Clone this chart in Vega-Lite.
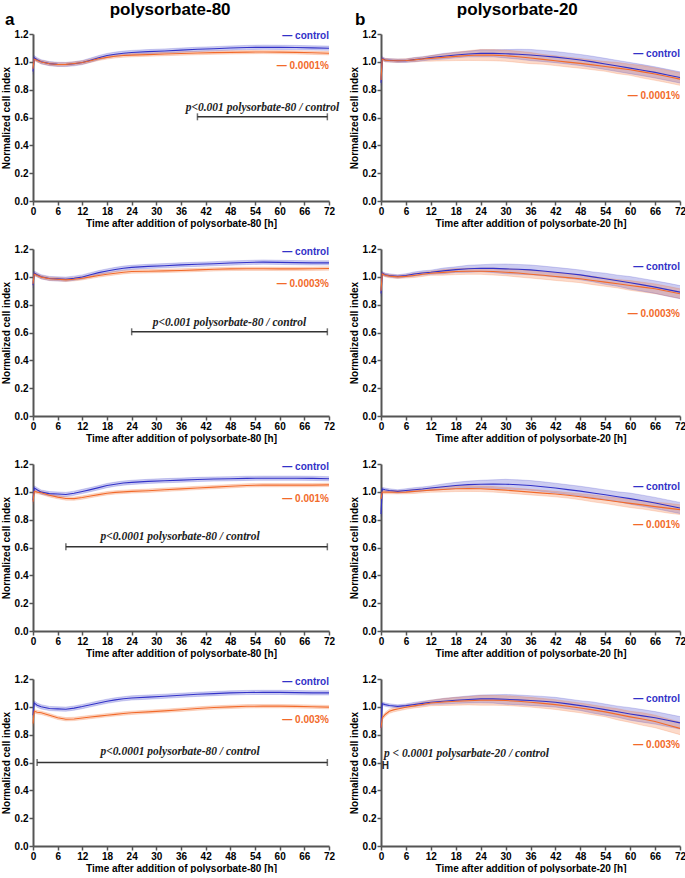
{
"$schema":"https://vega.github.io/schema/vega-lite/v6.json",
"padding":{"left":1,"top":1,"right":3,"bottom":0},
"background":"white",
"config":{
 "view":{"stroke":null},
 "font":"Liberation Sans",
 "title":{"font":"Liberation Sans","fontWeight":"bold","fontSize":17,"color":"black"},
 "axis":{"grid":false,"labelFont":"Liberation Sans","labelFontWeight":"bold","labelFontSize":10,"labelColor":"black","titleFont":"Liberation Sans","titleFontWeight":"bold","titleFontSize":10,"titleColor":"black","domainColor":"#555","domainWidth":2,"tickColor":"#555","tickWidth":1.5,"tickSize":4,"labelPadding":1,"titlePadding":2,"labelOverlap":false},
 "axisX":{"labelFlush":false,"tickCount":13},
 "axisY":{"format":".1f","titlePadding":3}
},
"datasets":{
"d":[
{"p":"a1","s":"control","t":0,"m":0.93,"e":0.02},{"p":"a1","s":"control","t":0.3,"m":1.03,"e":0.015},{"p":"a1","s":"control","t":1,"m":1.015,"e":0.015},{"p":"a1","s":"control","t":2,"m":1.0,"e":0.015},{"p":"a1","s":"control","t":4,"m":0.987,"e":0.015},{"p":"a1","s":"control","t":6,"m":0.982,"e":0.015},{"p":"a1","s":"control","t":8,"m":0.981,"e":0.015},{"p":"a1","s":"control","t":10,"m":0.986,"e":0.015},{"p":"a1","s":"control","t":12,"m":0.995,"e":0.015},{"p":"a1","s":"control","t":14,"m":1.012,"e":0.015},{"p":"a1","s":"control","t":16,"m":1.03,"e":0.015},{"p":"a1","s":"control","t":18,"m":1.045,"e":0.015},{"p":"a1","s":"control","t":20,"m":1.055,"e":0.015},{"p":"a1","s":"control","t":22,"m":1.062,"e":0.015},{"p":"a1","s":"control","t":24,"m":1.067,"e":0.015},{"p":"a1","s":"control","t":28,"m":1.073,"e":0.015},{"p":"a1","s":"control","t":32,"m":1.078,"e":0.015},{"p":"a1","s":"control","t":36,"m":1.084,"e":0.015},{"p":"a1","s":"control","t":40,"m":1.09,"e":0.015},{"p":"a1","s":"control","t":44,"m":1.094,"e":0.015},{"p":"a1","s":"control","t":48,"m":1.099,"e":0.015},{"p":"a1","s":"control","t":52,"m":1.103,"e":0.015},{"p":"a1","s":"control","t":56,"m":1.105,"e":0.015},{"p":"a1","s":"control","t":60,"m":1.104,"e":0.015},{"p":"a1","s":"control","t":64,"m":1.103,"e":0.015},{"p":"a1","s":"control","t":68,"m":1.1,"e":0.015},{"p":"a1","s":"control","t":72,"m":1.098,"e":0.015},
{"p":"a1","s":"treat","t":0,"m":0.95,"e":0.02},{"p":"a1","s":"treat","t":0.3,"m":1.02,"e":0.012},{"p":"a1","s":"treat","t":1,"m":1.01,"e":0.012},{"p":"a1","s":"treat","t":2,"m":0.999,"e":0.012},{"p":"a1","s":"treat","t":4,"m":0.986,"e":0.012},{"p":"a1","s":"treat","t":6,"m":0.981,"e":0.012},{"p":"a1","s":"treat","t":8,"m":0.982,"e":0.012},{"p":"a1","s":"treat","t":10,"m":0.988,"e":0.012},{"p":"a1","s":"treat","t":12,"m":0.995,"e":0.012},{"p":"a1","s":"treat","t":14,"m":1.008,"e":0.012},{"p":"a1","s":"treat","t":16,"m":1.022,"e":0.012},{"p":"a1","s":"treat","t":18,"m":1.032,"e":0.012},{"p":"a1","s":"treat","t":20,"m":1.04,"e":0.012},{"p":"a1","s":"treat","t":22,"m":1.045,"e":0.012},{"p":"a1","s":"treat","t":24,"m":1.048,"e":0.012},{"p":"a1","s":"treat","t":28,"m":1.052,"e":0.012},{"p":"a1","s":"treat","t":32,"m":1.056,"e":0.012},{"p":"a1","s":"treat","t":36,"m":1.06,"e":0.012},{"p":"a1","s":"treat","t":40,"m":1.063,"e":0.012},{"p":"a1","s":"treat","t":44,"m":1.066,"e":0.012},{"p":"a1","s":"treat","t":48,"m":1.068,"e":0.012},{"p":"a1","s":"treat","t":52,"m":1.07,"e":0.012},{"p":"a1","s":"treat","t":56,"m":1.071,"e":0.012},{"p":"a1","s":"treat","t":60,"m":1.07,"e":0.012},{"p":"a1","s":"treat","t":64,"m":1.068,"e":0.012},{"p":"a1","s":"treat","t":68,"m":1.065,"e":0.012},{"p":"a1","s":"treat","t":72,"m":1.062,"e":0.012},
{"p":"a2","s":"control","t":0,"m":0.94,"e":0.02},{"p":"a2","s":"control","t":0.3,"m":1.027,"e":0.015},{"p":"a2","s":"control","t":1,"m":1.015,"e":0.015},{"p":"a2","s":"control","t":2,"m":1.0,"e":0.015},{"p":"a2","s":"control","t":4,"m":0.988,"e":0.015},{"p":"a2","s":"control","t":6,"m":0.985,"e":0.015},{"p":"a2","s":"control","t":8,"m":0.983,"e":0.015},{"p":"a2","s":"control","t":10,"m":0.99,"e":0.015},{"p":"a2","s":"control","t":12,"m":0.999,"e":0.015},{"p":"a2","s":"control","t":14,"m":1.015,"e":0.015},{"p":"a2","s":"control","t":16,"m":1.03,"e":0.015},{"p":"a2","s":"control","t":18,"m":1.042,"e":0.015},{"p":"a2","s":"control","t":20,"m":1.053,"e":0.015},{"p":"a2","s":"control","t":22,"m":1.062,"e":0.015},{"p":"a2","s":"control","t":24,"m":1.068,"e":0.015},{"p":"a2","s":"control","t":28,"m":1.075,"e":0.015},{"p":"a2","s":"control","t":32,"m":1.08,"e":0.015},{"p":"a2","s":"control","t":36,"m":1.086,"e":0.015},{"p":"a2","s":"control","t":40,"m":1.09,"e":0.015},{"p":"a2","s":"control","t":44,"m":1.094,"e":0.015},{"p":"a2","s":"control","t":48,"m":1.099,"e":0.015},{"p":"a2","s":"control","t":52,"m":1.103,"e":0.015},{"p":"a2","s":"control","t":56,"m":1.106,"e":0.015},{"p":"a2","s":"control","t":60,"m":1.104,"e":0.015},{"p":"a2","s":"control","t":64,"m":1.102,"e":0.015},{"p":"a2","s":"control","t":68,"m":1.1,"e":0.015},{"p":"a2","s":"control","t":72,"m":1.1,"e":0.015},
{"p":"a2","s":"treat","t":0,"m":0.95,"e":0.02},{"p":"a2","s":"treat","t":0.3,"m":1.02,"e":0.012},{"p":"a2","s":"treat","t":1,"m":1.01,"e":0.012},{"p":"a2","s":"treat","t":2,"m":0.998,"e":0.012},{"p":"a2","s":"treat","t":4,"m":0.986,"e":0.012},{"p":"a2","s":"treat","t":6,"m":0.983,"e":0.012},{"p":"a2","s":"treat","t":8,"m":0.978,"e":0.012},{"p":"a2","s":"treat","t":10,"m":0.983,"e":0.012},{"p":"a2","s":"treat","t":12,"m":0.99,"e":0.012},{"p":"a2","s":"treat","t":14,"m":1.0,"e":0.012},{"p":"a2","s":"treat","t":16,"m":1.01,"e":0.012},{"p":"a2","s":"treat","t":18,"m":1.018,"e":0.012},{"p":"a2","s":"treat","t":20,"m":1.026,"e":0.012},{"p":"a2","s":"treat","t":22,"m":1.033,"e":0.012},{"p":"a2","s":"treat","t":24,"m":1.038,"e":0.012},{"p":"a2","s":"treat","t":28,"m":1.04,"e":0.012},{"p":"a2","s":"treat","t":32,"m":1.043,"e":0.012},{"p":"a2","s":"treat","t":36,"m":1.046,"e":0.012},{"p":"a2","s":"treat","t":40,"m":1.05,"e":0.012},{"p":"a2","s":"treat","t":44,"m":1.054,"e":0.012},{"p":"a2","s":"treat","t":48,"m":1.057,"e":0.012},{"p":"a2","s":"treat","t":52,"m":1.058,"e":0.012},{"p":"a2","s":"treat","t":56,"m":1.058,"e":0.012},{"p":"a2","s":"treat","t":60,"m":1.057,"e":0.012},{"p":"a2","s":"treat","t":64,"m":1.057,"e":0.012},{"p":"a2","s":"treat","t":68,"m":1.058,"e":0.012},{"p":"a2","s":"treat","t":72,"m":1.06,"e":0.012},
{"p":"a3","s":"control","t":0,"m":0.94,"e":0.02},{"p":"a3","s":"control","t":0.3,"m":1.028,"e":0.015},{"p":"a3","s":"control","t":1,"m":1.015,"e":0.015},{"p":"a3","s":"control","t":2,"m":0.998,"e":0.015},{"p":"a3","s":"control","t":4,"m":0.987,"e":0.015},{"p":"a3","s":"control","t":6,"m":0.984,"e":0.015},{"p":"a3","s":"control","t":8,"m":0.981,"e":0.015},{"p":"a3","s":"control","t":10,"m":0.99,"e":0.015},{"p":"a3","s":"control","t":12,"m":1.003,"e":0.015},{"p":"a3","s":"control","t":14,"m":1.016,"e":0.015},{"p":"a3","s":"control","t":16,"m":1.03,"e":0.015},{"p":"a3","s":"control","t":18,"m":1.045,"e":0.015},{"p":"a3","s":"control","t":20,"m":1.055,"e":0.015},{"p":"a3","s":"control","t":22,"m":1.063,"e":0.015},{"p":"a3","s":"control","t":24,"m":1.068,"e":0.015},{"p":"a3","s":"control","t":28,"m":1.075,"e":0.015},{"p":"a3","s":"control","t":32,"m":1.08,"e":0.015},{"p":"a3","s":"control","t":36,"m":1.084,"e":0.015},{"p":"a3","s":"control","t":40,"m":1.089,"e":0.015},{"p":"a3","s":"control","t":44,"m":1.092,"e":0.015},{"p":"a3","s":"control","t":48,"m":1.094,"e":0.015},{"p":"a3","s":"control","t":52,"m":1.097,"e":0.015},{"p":"a3","s":"control","t":56,"m":1.098,"e":0.015},{"p":"a3","s":"control","t":60,"m":1.098,"e":0.015},{"p":"a3","s":"control","t":64,"m":1.098,"e":0.015},{"p":"a3","s":"control","t":68,"m":1.097,"e":0.015},{"p":"a3","s":"control","t":72,"m":1.094,"e":0.015},
{"p":"a3","s":"treat","t":0,"m":0.93,"e":0.02},{"p":"a3","s":"treat","t":0.3,"m":1.003,"e":0.012},{"p":"a3","s":"treat","t":1,"m":0.998,"e":0.012},{"p":"a3","s":"treat","t":2,"m":0.993,"e":0.012},{"p":"a3","s":"treat","t":4,"m":0.975,"e":0.012},{"p":"a3","s":"treat","t":6,"m":0.962,"e":0.012},{"p":"a3","s":"treat","t":8,"m":0.952,"e":0.012},{"p":"a3","s":"treat","t":10,"m":0.951,"e":0.012},{"p":"a3","s":"treat","t":12,"m":0.959,"e":0.012},{"p":"a3","s":"treat","t":14,"m":0.97,"e":0.012},{"p":"a3","s":"treat","t":16,"m":0.98,"e":0.012},{"p":"a3","s":"treat","t":18,"m":0.99,"e":0.012},{"p":"a3","s":"treat","t":20,"m":0.996,"e":0.012},{"p":"a3","s":"treat","t":22,"m":1.0,"e":0.012},{"p":"a3","s":"treat","t":24,"m":1.003,"e":0.012},{"p":"a3","s":"treat","t":28,"m":1.008,"e":0.012},{"p":"a3","s":"treat","t":32,"m":1.015,"e":0.012},{"p":"a3","s":"treat","t":36,"m":1.021,"e":0.012},{"p":"a3","s":"treat","t":40,"m":1.028,"e":0.012},{"p":"a3","s":"treat","t":44,"m":1.034,"e":0.012},{"p":"a3","s":"treat","t":48,"m":1.04,"e":0.012},{"p":"a3","s":"treat","t":52,"m":1.046,"e":0.012},{"p":"a3","s":"treat","t":56,"m":1.048,"e":0.012},{"p":"a3","s":"treat","t":60,"m":1.048,"e":0.012},{"p":"a3","s":"treat","t":64,"m":1.048,"e":0.012},{"p":"a3","s":"treat","t":68,"m":1.048,"e":0.012},{"p":"a3","s":"treat","t":72,"m":1.05,"e":0.012},
{"p":"a4","s":"control","t":0,"m":0.94,"e":0.02},{"p":"a4","s":"control","t":0.3,"m":1.028,"e":0.015},{"p":"a4","s":"control","t":1,"m":1.012,"e":0.015},{"p":"a4","s":"control","t":2,"m":1.0,"e":0.015},{"p":"a4","s":"control","t":4,"m":0.988,"e":0.015},{"p":"a4","s":"control","t":6,"m":0.985,"e":0.015},{"p":"a4","s":"control","t":8,"m":0.983,"e":0.015},{"p":"a4","s":"control","t":10,"m":0.991,"e":0.015},{"p":"a4","s":"control","t":12,"m":1.002,"e":0.015},{"p":"a4","s":"control","t":14,"m":1.015,"e":0.015},{"p":"a4","s":"control","t":16,"m":1.028,"e":0.015},{"p":"a4","s":"control","t":18,"m":1.04,"e":0.015},{"p":"a4","s":"control","t":20,"m":1.05,"e":0.015},{"p":"a4","s":"control","t":22,"m":1.058,"e":0.015},{"p":"a4","s":"control","t":24,"m":1.064,"e":0.015},{"p":"a4","s":"control","t":28,"m":1.07,"e":0.015},{"p":"a4","s":"control","t":32,"m":1.076,"e":0.015},{"p":"a4","s":"control","t":36,"m":1.083,"e":0.015},{"p":"a4","s":"control","t":40,"m":1.09,"e":0.015},{"p":"a4","s":"control","t":44,"m":1.095,"e":0.015},{"p":"a4","s":"control","t":48,"m":1.1,"e":0.015},{"p":"a4","s":"control","t":52,"m":1.103,"e":0.015},{"p":"a4","s":"control","t":56,"m":1.104,"e":0.015},{"p":"a4","s":"control","t":60,"m":1.104,"e":0.015},{"p":"a4","s":"control","t":64,"m":1.102,"e":0.015},{"p":"a4","s":"control","t":68,"m":1.1,"e":0.015},{"p":"a4","s":"control","t":72,"m":1.1,"e":0.015},
{"p":"a4","s":"treat","t":0,"m":0.88,"e":0.02},{"p":"a4","s":"treat","t":0.3,"m":0.968,"e":0.012},{"p":"a4","s":"treat","t":1,"m":0.961,"e":0.012},{"p":"a4","s":"treat","t":2,"m":0.957,"e":0.012},{"p":"a4","s":"treat","t":4,"m":0.94,"e":0.012},{"p":"a4","s":"treat","t":6,"m":0.921,"e":0.012},{"p":"a4","s":"treat","t":8,"m":0.911,"e":0.012},{"p":"a4","s":"treat","t":10,"m":0.913,"e":0.012},{"p":"a4","s":"treat","t":12,"m":0.92,"e":0.012},{"p":"a4","s":"treat","t":14,"m":0.927,"e":0.012},{"p":"a4","s":"treat","t":16,"m":0.933,"e":0.012},{"p":"a4","s":"treat","t":18,"m":0.94,"e":0.012},{"p":"a4","s":"treat","t":20,"m":0.946,"e":0.012},{"p":"a4","s":"treat","t":22,"m":0.952,"e":0.012},{"p":"a4","s":"treat","t":24,"m":0.957,"e":0.012},{"p":"a4","s":"treat","t":28,"m":0.964,"e":0.012},{"p":"a4","s":"treat","t":32,"m":0.971,"e":0.012},{"p":"a4","s":"treat","t":36,"m":0.979,"e":0.012},{"p":"a4","s":"treat","t":40,"m":0.988,"e":0.012},{"p":"a4","s":"treat","t":44,"m":0.995,"e":0.012},{"p":"a4","s":"treat","t":48,"m":1.0,"e":0.012},{"p":"a4","s":"treat","t":52,"m":1.004,"e":0.012},{"p":"a4","s":"treat","t":56,"m":1.005,"e":0.012},{"p":"a4","s":"treat","t":60,"m":1.005,"e":0.012},{"p":"a4","s":"treat","t":64,"m":1.003,"e":0.012},{"p":"a4","s":"treat","t":68,"m":1.001,"e":0.012},{"p":"a4","s":"treat","t":72,"m":0.998,"e":0.012},
{"p":"b1","s":"control","t":0,"m":0.85,"e":0.02},{"p":"b1","s":"control","t":0.3,"m":1.025,"e":0.012},{"p":"b1","s":"control","t":1,"m":1.013,"e":0.012},{"p":"b1","s":"control","t":2,"m":1.011,"e":0.012},{"p":"b1","s":"control","t":4,"m":1.008,"e":0.012},{"p":"b1","s":"control","t":6,"m":1.008,"e":0.012},{"p":"b1","s":"control","t":8,"m":1.016,"e":0.015},{"p":"b1","s":"control","t":10,"m":1.022,"e":0.015},{"p":"b1","s":"control","t":12,"m":1.03,"e":0.015},{"p":"b1","s":"control","t":15,"m":1.04,"e":0.02},{"p":"b1","s":"control","t":18,"m":1.049,"e":0.02},{"p":"b1","s":"control","t":21,"m":1.056,"e":0.02},{"p":"b1","s":"control","t":24,"m":1.061,"e":0.025},{"p":"b1","s":"control","t":27,"m":1.061,"e":0.025},{"p":"b1","s":"control","t":30,"m":1.058,"e":0.03},{"p":"b1","s":"control","t":33,"m":1.055,"e":0.035},{"p":"b1","s":"control","t":36,"m":1.049,"e":0.04},{"p":"b1","s":"control","t":39,"m":1.042,"e":0.04},{"p":"b1","s":"control","t":42,"m":1.034,"e":0.04},{"p":"b1","s":"control","t":45,"m":1.024,"e":0.04},{"p":"b1","s":"control","t":48,"m":1.013,"e":0.04},{"p":"b1","s":"control","t":51,"m":1.0,"e":0.04},{"p":"b1","s":"control","t":54,"m":0.985,"e":0.04},{"p":"b1","s":"control","t":57,"m":0.97,"e":0.04},{"p":"b1","s":"control","t":60,"m":0.955,"e":0.04},{"p":"b1","s":"control","t":63,"m":0.94,"e":0.04},{"p":"b1","s":"control","t":66,"m":0.924,"e":0.04},{"p":"b1","s":"control","t":69,"m":0.906,"e":0.04},{"p":"b1","s":"control","t":72,"m":0.888,"e":0.04},
{"p":"b1","s":"treat","t":0,"m":0.87,"e":0.02},{"p":"b1","s":"treat","t":0.3,"m":1.02,"e":0.012},{"p":"b1","s":"treat","t":1,"m":1.012,"e":0.012},{"p":"b1","s":"treat","t":2,"m":1.01,"e":0.012},{"p":"b1","s":"treat","t":4,"m":1.008,"e":0.012},{"p":"b1","s":"treat","t":6,"m":1.01,"e":0.012},{"p":"b1","s":"treat","t":8,"m":1.014,"e":0.015},{"p":"b1","s":"treat","t":10,"m":1.02,"e":0.015},{"p":"b1","s":"treat","t":12,"m":1.025,"e":0.02},{"p":"b1","s":"treat","t":15,"m":1.032,"e":0.025},{"p":"b1","s":"treat","t":18,"m":1.039,"e":0.03},{"p":"b1","s":"treat","t":21,"m":1.045,"e":0.035},{"p":"b1","s":"treat","t":24,"m":1.049,"e":0.04},{"p":"b1","s":"treat","t":27,"m":1.048,"e":0.04},{"p":"b1","s":"treat","t":30,"m":1.044,"e":0.04},{"p":"b1","s":"treat","t":33,"m":1.036,"e":0.04},{"p":"b1","s":"treat","t":36,"m":1.027,"e":0.04},{"p":"b1","s":"treat","t":39,"m":1.018,"e":0.035},{"p":"b1","s":"treat","t":42,"m":1.008,"e":0.035},{"p":"b1","s":"treat","t":45,"m":0.998,"e":0.035},{"p":"b1","s":"treat","t":48,"m":0.989,"e":0.035},{"p":"b1","s":"treat","t":51,"m":0.978,"e":0.035},{"p":"b1","s":"treat","t":54,"m":0.967,"e":0.035},{"p":"b1","s":"treat","t":57,"m":0.955,"e":0.04},{"p":"b1","s":"treat","t":60,"m":0.943,"e":0.04},{"p":"b1","s":"treat","t":63,"m":0.928,"e":0.045},{"p":"b1","s":"treat","t":66,"m":0.912,"e":0.045},{"p":"b1","s":"treat","t":69,"m":0.895,"e":0.045},{"p":"b1","s":"treat","t":72,"m":0.876,"e":0.045},
{"p":"b2","s":"control","t":0,"m":0.88,"e":0.02},{"p":"b2","s":"control","t":0.3,"m":1.026,"e":0.012},{"p":"b2","s":"control","t":1,"m":1.015,"e":0.012},{"p":"b2","s":"control","t":2,"m":1.01,"e":0.012},{"p":"b2","s":"control","t":4,"m":1.003,"e":0.012},{"p":"b2","s":"control","t":6,"m":1.01,"e":0.012},{"p":"b2","s":"control","t":8,"m":1.02,"e":0.015},{"p":"b2","s":"control","t":10,"m":1.028,"e":0.015},{"p":"b2","s":"control","t":12,"m":1.033,"e":0.015},{"p":"b2","s":"control","t":15,"m":1.043,"e":0.02},{"p":"b2","s":"control","t":18,"m":1.052,"e":0.02},{"p":"b2","s":"control","t":21,"m":1.058,"e":0.025},{"p":"b2","s":"control","t":24,"m":1.062,"e":0.025},{"p":"b2","s":"control","t":27,"m":1.061,"e":0.03},{"p":"b2","s":"control","t":30,"m":1.057,"e":0.035},{"p":"b2","s":"control","t":33,"m":1.054,"e":0.035},{"p":"b2","s":"control","t":36,"m":1.05,"e":0.035},{"p":"b2","s":"control","t":39,"m":1.042,"e":0.035},{"p":"b2","s":"control","t":42,"m":1.033,"e":0.035},{"p":"b2","s":"control","t":45,"m":1.024,"e":0.035},{"p":"b2","s":"control","t":48,"m":1.014,"e":0.035},{"p":"b2","s":"control","t":51,"m":1.0,"e":0.035},{"p":"b2","s":"control","t":54,"m":0.986,"e":0.04},{"p":"b2","s":"control","t":57,"m":0.972,"e":0.04},{"p":"b2","s":"control","t":60,"m":0.957,"e":0.045},{"p":"b2","s":"control","t":63,"m":0.942,"e":0.045},{"p":"b2","s":"control","t":66,"m":0.926,"e":0.045},{"p":"b2","s":"control","t":69,"m":0.908,"e":0.047},{"p":"b2","s":"control","t":72,"m":0.89,"e":0.047},
{"p":"b2","s":"treat","t":0,"m":0.9,"e":0.02},{"p":"b2","s":"treat","t":0.3,"m":1.021,"e":0.012},{"p":"b2","s":"treat","t":1,"m":1.012,"e":0.012},{"p":"b2","s":"treat","t":2,"m":1.005,"e":0.012},{"p":"b2","s":"treat","t":4,"m":1.0,"e":0.012},{"p":"b2","s":"treat","t":6,"m":1.003,"e":0.012},{"p":"b2","s":"treat","t":8,"m":1.01,"e":0.015},{"p":"b2","s":"treat","t":10,"m":1.018,"e":0.015},{"p":"b2","s":"treat","t":12,"m":1.026,"e":0.015},{"p":"b2","s":"treat","t":15,"m":1.032,"e":0.02},{"p":"b2","s":"treat","t":18,"m":1.038,"e":0.022},{"p":"b2","s":"treat","t":21,"m":1.04,"e":0.022},{"p":"b2","s":"treat","t":24,"m":1.04,"e":0.022},{"p":"b2","s":"treat","t":27,"m":1.038,"e":0.025},{"p":"b2","s":"treat","t":30,"m":1.033,"e":0.025},{"p":"b2","s":"treat","t":33,"m":1.027,"e":0.028},{"p":"b2","s":"treat","t":36,"m":1.019,"e":0.028},{"p":"b2","s":"treat","t":39,"m":1.011,"e":0.028},{"p":"b2","s":"treat","t":42,"m":1.002,"e":0.028},{"p":"b2","s":"treat","t":45,"m":0.994,"e":0.028},{"p":"b2","s":"treat","t":48,"m":0.986,"e":0.028},{"p":"b2","s":"treat","t":51,"m":0.974,"e":0.03},{"p":"b2","s":"treat","t":54,"m":0.962,"e":0.03},{"p":"b2","s":"treat","t":57,"m":0.95,"e":0.03},{"p":"b2","s":"treat","t":60,"m":0.938,"e":0.035},{"p":"b2","s":"treat","t":63,"m":0.926,"e":0.035},{"p":"b2","s":"treat","t":66,"m":0.914,"e":0.035},{"p":"b2","s":"treat","t":69,"m":0.897,"e":0.035},{"p":"b2","s":"treat","t":72,"m":0.879,"e":0.035},
{"p":"b3","s":"control","t":0,"m":0.84,"e":0.02},{"p":"b3","s":"control","t":0.3,"m":1.02,"e":0.012},{"p":"b3","s":"control","t":1,"m":1.015,"e":0.012},{"p":"b3","s":"control","t":2,"m":1.01,"e":0.012},{"p":"b3","s":"control","t":4,"m":1.003,"e":0.012},{"p":"b3","s":"control","t":6,"m":1.01,"e":0.012},{"p":"b3","s":"control","t":8,"m":1.015,"e":0.015},{"p":"b3","s":"control","t":10,"m":1.02,"e":0.015},{"p":"b3","s":"control","t":12,"m":1.027,"e":0.015},{"p":"b3","s":"control","t":15,"m":1.037,"e":0.02},{"p":"b3","s":"control","t":18,"m":1.046,"e":0.022},{"p":"b3","s":"control","t":21,"m":1.052,"e":0.025},{"p":"b3","s":"control","t":24,"m":1.055,"e":0.028},{"p":"b3","s":"control","t":27,"m":1.056,"e":0.03},{"p":"b3","s":"control","t":30,"m":1.055,"e":0.035},{"p":"b3","s":"control","t":33,"m":1.051,"e":0.035},{"p":"b3","s":"control","t":36,"m":1.046,"e":0.035},{"p":"b3","s":"control","t":39,"m":1.037,"e":0.035},{"p":"b3","s":"control","t":42,"m":1.027,"e":0.035},{"p":"b3","s":"control","t":45,"m":1.016,"e":0.035},{"p":"b3","s":"control","t":48,"m":1.005,"e":0.035},{"p":"b3","s":"control","t":51,"m":0.992,"e":0.035},{"p":"b3","s":"control","t":54,"m":0.979,"e":0.035},{"p":"b3","s":"control","t":57,"m":0.965,"e":0.035},{"p":"b3","s":"control","t":60,"m":0.951,"e":0.04},{"p":"b3","s":"control","t":63,"m":0.936,"e":0.04},{"p":"b3","s":"control","t":66,"m":0.92,"e":0.04},{"p":"b3","s":"control","t":69,"m":0.902,"e":0.04},{"p":"b3","s":"control","t":72,"m":0.884,"e":0.04},
{"p":"b3","s":"treat","t":0,"m":0.95,"e":0.02},{"p":"b3","s":"treat","t":0.3,"m":0.998,"e":0.012},{"p":"b3","s":"treat","t":1,"m":0.998,"e":0.012},{"p":"b3","s":"treat","t":2,"m":0.998,"e":0.012},{"p":"b3","s":"treat","t":4,"m":0.997,"e":0.012},{"p":"b3","s":"treat","t":6,"m":0.998,"e":0.012},{"p":"b3","s":"treat","t":8,"m":1.003,"e":0.015},{"p":"b3","s":"treat","t":10,"m":1.008,"e":0.015},{"p":"b3","s":"treat","t":12,"m":1.012,"e":0.015},{"p":"b3","s":"treat","t":15,"m":1.017,"e":0.018},{"p":"b3","s":"treat","t":18,"m":1.022,"e":0.02},{"p":"b3","s":"treat","t":21,"m":1.023,"e":0.02},{"p":"b3","s":"treat","t":24,"m":1.022,"e":0.02},{"p":"b3","s":"treat","t":27,"m":1.018,"e":0.02},{"p":"b3","s":"treat","t":30,"m":1.012,"e":0.02},{"p":"b3","s":"treat","t":33,"m":1.005,"e":0.02},{"p":"b3","s":"treat","t":36,"m":0.998,"e":0.02},{"p":"b3","s":"treat","t":39,"m":0.991,"e":0.02},{"p":"b3","s":"treat","t":42,"m":0.984,"e":0.02},{"p":"b3","s":"treat","t":45,"m":0.975,"e":0.02},{"p":"b3","s":"treat","t":48,"m":0.965,"e":0.022},{"p":"b3","s":"treat","t":51,"m":0.953,"e":0.025},{"p":"b3","s":"treat","t":54,"m":0.941,"e":0.025},{"p":"b3","s":"treat","t":57,"m":0.929,"e":0.028},{"p":"b3","s":"treat","t":60,"m":0.917,"e":0.03},{"p":"b3","s":"treat","t":63,"m":0.906,"e":0.03},{"p":"b3","s":"treat","t":66,"m":0.894,"e":0.032},{"p":"b3","s":"treat","t":69,"m":0.883,"e":0.035},{"p":"b3","s":"treat","t":72,"m":0.872,"e":0.035},
{"p":"b4","s":"control","t":0,"m":0.85,"e":0.02},{"p":"b4","s":"control","t":0.3,"m":1.023,"e":0.012},{"p":"b4","s":"control","t":1,"m":1.016,"e":0.012},{"p":"b4","s":"control","t":2,"m":1.01,"e":0.012},{"p":"b4","s":"control","t":4,"m":1.003,"e":0.012},{"p":"b4","s":"control","t":6,"m":1.009,"e":0.012},{"p":"b4","s":"control","t":8,"m":1.017,"e":0.015},{"p":"b4","s":"control","t":10,"m":1.025,"e":0.015},{"p":"b4","s":"control","t":12,"m":1.033,"e":0.015},{"p":"b4","s":"control","t":15,"m":1.04,"e":0.02},{"p":"b4","s":"control","t":18,"m":1.047,"e":0.022},{"p":"b4","s":"control","t":21,"m":1.053,"e":0.025},{"p":"b4","s":"control","t":24,"m":1.057,"e":0.028},{"p":"b4","s":"control","t":27,"m":1.057,"e":0.03},{"p":"b4","s":"control","t":30,"m":1.054,"e":0.035},{"p":"b4","s":"control","t":33,"m":1.05,"e":0.035},{"p":"b4","s":"control","t":36,"m":1.045,"e":0.035},{"p":"b4","s":"control","t":39,"m":1.04,"e":0.035},{"p":"b4","s":"control","t":42,"m":1.033,"e":0.035},{"p":"b4","s":"control","t":45,"m":1.021,"e":0.035},{"p":"b4","s":"control","t":48,"m":1.009,"e":0.035},{"p":"b4","s":"control","t":51,"m":0.995,"e":0.04},{"p":"b4","s":"control","t":54,"m":0.98,"e":0.04},{"p":"b4","s":"control","t":57,"m":0.965,"e":0.04},{"p":"b4","s":"control","t":60,"m":0.949,"e":0.045},{"p":"b4","s":"control","t":63,"m":0.935,"e":0.045},{"p":"b4","s":"control","t":66,"m":0.921,"e":0.045},{"p":"b4","s":"control","t":69,"m":0.903,"e":0.045},{"p":"b4","s":"control","t":72,"m":0.885,"e":0.045},
{"p":"b4","s":"treat","t":0,"m":0.85,"e":0.02},{"p":"b4","s":"treat","t":0.3,"m":0.92,"e":0.015},{"p":"b4","s":"treat","t":1,"m":0.945,"e":0.015},{"p":"b4","s":"treat","t":2,"m":0.968,"e":0.015},{"p":"b4","s":"treat","t":3,"m":0.978,"e":0.015},{"p":"b4","s":"treat","t":4,"m":0.985,"e":0.015},{"p":"b4","s":"treat","t":6,"m":0.997,"e":0.015},{"p":"b4","s":"treat","t":8,"m":1.007,"e":0.015},{"p":"b4","s":"treat","t":10,"m":1.017,"e":0.018},{"p":"b4","s":"treat","t":12,"m":1.028,"e":0.02},{"p":"b4","s":"treat","t":15,"m":1.035,"e":0.025},{"p":"b4","s":"treat","t":18,"m":1.04,"e":0.028},{"p":"b4","s":"treat","t":21,"m":1.044,"e":0.03},{"p":"b4","s":"treat","t":24,"m":1.047,"e":0.035},{"p":"b4","s":"treat","t":27,"m":1.047,"e":0.035},{"p":"b4","s":"treat","t":30,"m":1.045,"e":0.035},{"p":"b4","s":"treat","t":33,"m":1.04,"e":0.035},{"p":"b4","s":"treat","t":36,"m":1.033,"e":0.035},{"p":"b4","s":"treat","t":39,"m":1.025,"e":0.035},{"p":"b4","s":"treat","t":42,"m":1.016,"e":0.035},{"p":"b4","s":"treat","t":45,"m":1.004,"e":0.035},{"p":"b4","s":"treat","t":48,"m":0.992,"e":0.035},{"p":"b4","s":"treat","t":51,"m":0.978,"e":0.035},{"p":"b4","s":"treat","t":54,"m":0.964,"e":0.035},{"p":"b4","s":"treat","t":57,"m":0.946,"e":0.04},{"p":"b4","s":"treat","t":60,"m":0.928,"e":0.04},{"p":"b4","s":"treat","t":63,"m":0.912,"e":0.045},{"p":"b4","s":"treat","t":66,"m":0.895,"e":0.045},{"p":"b4","s":"treat","t":69,"m":0.87,"e":0.045},{"p":"b4","s":"treat","t":72,"m":0.845,"e":0.045}
],
"lab":[
{"p":"a1","s":"control","txt":"— control","t":72,"y":1.183},{"p":"a1","s":"treat","txt":"— 0.0001%","t":72,"y":0.972},
{"p":"a2","s":"control","txt":"— control","t":72,"y":1.176},{"p":"a2","s":"treat","txt":"— 0.0003%","t":72,"y":0.945},
{"p":"a3","s":"control","txt":"— control","t":72,"y":1.176},{"p":"a3","s":"treat","txt":"— 0.001%","t":72,"y":0.945},
{"p":"a4","s":"control","txt":"— control","t":72,"y":1.176},{"p":"a4","s":"treat","txt":"— 0.003%","t":72,"y":0.905},
{"p":"b1","s":"control","txt":"— control","t":72,"y":1.056},{"p":"b1","s":"treat","txt":"— 0.0001%","t":72,"y":0.752},
{"p":"b2","s":"control","txt":"— control","t":72,"y":1.069},{"p":"b2","s":"treat","txt":"— 0.0003%","t":72,"y":0.736},
{"p":"b3","s":"control","txt":"— control","t":72,"y":1.038},{"p":"b3","s":"treat","txt":"— 0.001%","t":72,"y":0.759},
{"p":"b4","s":"control","txt":"— control","t":72,"y":1.059},{"p":"b4","s":"treat","txt":"— 0.003%","t":72,"y":0.726}
],
"sig":[
{"p":"a1","x1":40,"x2":71.6,"y":0.605,"tm":55.8,"ty":0.645,"txt":"p<0.001 polysorbate-80 / control"},
{"p":"a2","x1":24,"x2":71.6,"y":0.605,"tm":47.8,"ty":0.648,"txt":"p<0.001 polysorbate-80 / control"},
{"p":"a3","x1":8,"x2":71.6,"y":0.605,"tm":35.8,"ty":0.652,"txt":"p<0.0001 polysorbate-80 / control"},
{"p":"a4","x1":1,"x2":71.6,"y":0.6,"tm":35.8,"ty":0.652,"txt":"p<0.0001 polysorbate-80 / control"}
],
"sigb":[
{"p":"b4","t":0.7,"ty":0.636,"txt":"p < 0.0001 polysarbate-20 / control","ht":0.2,"hy":0.578,"h":"H"}
]
},
"spacing":9,
"hconcat":[
{"title":{"text":"polysorbate-80","anchor":"middle","offset":-8},
 "spacing":16,
 "vconcat":[
 {"width":296,"height":167,
  "title":{"text":"a","anchor":"start","frame":"bounds","dx":4,"offset":0},
  "layer":[
   {"data":{"name":"d"},"transform":[{"filter":"datum.p=='a1'"}],
    "encoding":{"x":{"field":"t","type":"quantitative","scale":{"domain":[0,72],"nice":false},"title":"Time after addition of polysorbate-80 [h]","axis":{"values":[0,6,12,18,24,30,36,42,48,54,60,66,72],"tickCount":13}},
     "color":{"field":"s","type":"nominal","scale":{"domain":["control","treat"],"range":["#3232c8","#f26a2a"]},"legend":null}},
    "layer":[
     {"mark":{"type":"errorband","opacity":0.25,"borders":{"strokeWidth":0.5,"opacity":0.4}},"encoding":{"y":{"field":"m","type":"quantitative","scale":{"domain":[0,1.2],"nice":false},"title":"Normalized cell index"},"yError":{"field":"e"}}},
     {"mark":{"type":"line","strokeWidth":1.1},"encoding":{"y":{"field":"m","type":"quantitative","scale":{"domain":[0,1.2],"nice":false},"title":"Normalized cell index"}}}
    ]},
   {"data":{"name":"lab"},"transform":[{"filter":"datum.p=='a1'"}],
    "mark":{"type":"text","align":"right","baseline":"middle","font":"Liberation Sans","fontWeight":"bold","fontSize":10},
    "encoding":{"x":{"field":"t","type":"quantitative","scale":{"domain":[0,72],"nice":false},"title":"Time after addition of polysorbate-80 [h]"},"y":{"field":"y","type":"quantitative","scale":{"domain":[0,1.2],"nice":false},"title":"Normalized cell index"},"text":{"field":"txt"},
     "color":{"field":"s","type":"nominal","scale":{"domain":["control","treat"],"range":["#3232c8","#f26a2a"]},"legend":null}}},
   {"data":{"name":"sig"},"transform":[{"filter":"datum.p=='a1'"}],
    "encoding":{"y":{"field":"y","type":"quantitative","scale":{"domain":[0,1.2],"nice":false},"title":"Normalized cell index"}},
    "layer":[
     {"mark":{"type":"rule","color":"#333","strokeWidth":1.5},"encoding":{"x":{"field":"x1","type":"quantitative","scale":{"domain":[0,72],"nice":false},"title":"Time after addition of polysorbate-80 [h]"},"x2":{"field":"x2"}}},
     {"mark":{"type":"tick","orient":"vertical","color":"#333","size":7,"thickness":1.5},"encoding":{"x":{"field":"x1","type":"quantitative","scale":{"domain":[0,72],"nice":false},"title":"Time after addition of polysorbate-80 [h]"}}},
     {"mark":{"type":"tick","orient":"vertical","color":"#333","size":7,"thickness":1.5},"encoding":{"x":{"field":"x2","type":"quantitative","scale":{"domain":[0,72],"nice":false},"title":"Time after addition of polysorbate-80 [h]"}}},
     {"mark":{"type":"text","align":"center","baseline":"alphabetic","font":"Liberation Serif","fontStyle":"italic","fontWeight":"bold","fontSize":11.5,"color":"#222"},"encoding":{"x":{"field":"tm","type":"quantitative","scale":{"domain":[0,72],"nice":false},"title":"Time after addition of polysorbate-80 [h]"},"y":{"field":"ty","type":"quantitative","scale":{"domain":[0,1.2],"nice":false},"title":"Normalized cell index"},"text":{"field":"txt"}}}
    ]}
  ]},
 {"width":296,"height":167,
  "layer":[
   {"data":{"name":"d"},"transform":[{"filter":"datum.p=='a2'"}],
    "encoding":{"x":{"field":"t","type":"quantitative","scale":{"domain":[0,72],"nice":false},"title":"Time after addition of polysorbate-80 [h]","axis":{"values":[0,6,12,18,24,30,36,42,48,54,60,66,72],"tickCount":13}},
     "color":{"field":"s","type":"nominal","scale":{"domain":["control","treat"],"range":["#3232c8","#f26a2a"]},"legend":null}},
    "layer":[
     {"mark":{"type":"errorband","opacity":0.25,"borders":{"strokeWidth":0.5,"opacity":0.4}},"encoding":{"y":{"field":"m","type":"quantitative","scale":{"domain":[0,1.2],"nice":false},"title":"Normalized cell index"},"yError":{"field":"e"}}},
     {"mark":{"type":"line","strokeWidth":1.1},"encoding":{"y":{"field":"m","type":"quantitative","scale":{"domain":[0,1.2],"nice":false},"title":"Normalized cell index"}}}
    ]},
   {"data":{"name":"lab"},"transform":[{"filter":"datum.p=='a2'"}],
    "mark":{"type":"text","align":"right","baseline":"middle","font":"Liberation Sans","fontWeight":"bold","fontSize":10},
    "encoding":{"x":{"field":"t","type":"quantitative","scale":{"domain":[0,72],"nice":false},"title":"Time after addition of polysorbate-80 [h]"},"y":{"field":"y","type":"quantitative","scale":{"domain":[0,1.2],"nice":false},"title":"Normalized cell index"},"text":{"field":"txt"},
     "color":{"field":"s","type":"nominal","scale":{"domain":["control","treat"],"range":["#3232c8","#f26a2a"]},"legend":null}}},
   {"data":{"name":"sig"},"transform":[{"filter":"datum.p=='a2'"}],
    "encoding":{"y":{"field":"y","type":"quantitative","scale":{"domain":[0,1.2],"nice":false},"title":"Normalized cell index"}},
    "layer":[
     {"mark":{"type":"rule","color":"#333","strokeWidth":1.5},"encoding":{"x":{"field":"x1","type":"quantitative","scale":{"domain":[0,72],"nice":false},"title":"Time after addition of polysorbate-80 [h]"},"x2":{"field":"x2"}}},
     {"mark":{"type":"tick","orient":"vertical","color":"#333","size":7,"thickness":1.5},"encoding":{"x":{"field":"x1","type":"quantitative","scale":{"domain":[0,72],"nice":false},"title":"Time after addition of polysorbate-80 [h]"}}},
     {"mark":{"type":"tick","orient":"vertical","color":"#333","size":7,"thickness":1.5},"encoding":{"x":{"field":"x2","type":"quantitative","scale":{"domain":[0,72],"nice":false},"title":"Time after addition of polysorbate-80 [h]"}}},
     {"mark":{"type":"text","align":"center","baseline":"alphabetic","font":"Liberation Serif","fontStyle":"italic","fontWeight":"bold","fontSize":11.5,"color":"#222"},"encoding":{"x":{"field":"tm","type":"quantitative","scale":{"domain":[0,72],"nice":false},"title":"Time after addition of polysorbate-80 [h]"},"y":{"field":"ty","type":"quantitative","scale":{"domain":[0,1.2],"nice":false},"title":"Normalized cell index"},"text":{"field":"txt"}}}
    ]}
  ]},
 {"width":296,"height":167,
  "layer":[
   {"data":{"name":"d"},"transform":[{"filter":"datum.p=='a3'"}],
    "encoding":{"x":{"field":"t","type":"quantitative","scale":{"domain":[0,72],"nice":false},"title":"Time after addition of polysorbate-80 [h]","axis":{"values":[0,6,12,18,24,30,36,42,48,54,60,66,72],"tickCount":13}},
     "color":{"field":"s","type":"nominal","scale":{"domain":["control","treat"],"range":["#3232c8","#f26a2a"]},"legend":null}},
    "layer":[
     {"mark":{"type":"errorband","opacity":0.25,"borders":{"strokeWidth":0.5,"opacity":0.4}},"encoding":{"y":{"field":"m","type":"quantitative","scale":{"domain":[0,1.2],"nice":false},"title":"Normalized cell index"},"yError":{"field":"e"}}},
     {"mark":{"type":"line","strokeWidth":1.1},"encoding":{"y":{"field":"m","type":"quantitative","scale":{"domain":[0,1.2],"nice":false},"title":"Normalized cell index"}}}
    ]},
   {"data":{"name":"lab"},"transform":[{"filter":"datum.p=='a3'"}],
    "mark":{"type":"text","align":"right","baseline":"middle","font":"Liberation Sans","fontWeight":"bold","fontSize":10},
    "encoding":{"x":{"field":"t","type":"quantitative","scale":{"domain":[0,72],"nice":false},"title":"Time after addition of polysorbate-80 [h]"},"y":{"field":"y","type":"quantitative","scale":{"domain":[0,1.2],"nice":false},"title":"Normalized cell index"},"text":{"field":"txt"},
     "color":{"field":"s","type":"nominal","scale":{"domain":["control","treat"],"range":["#3232c8","#f26a2a"]},"legend":null}}},
   {"data":{"name":"sig"},"transform":[{"filter":"datum.p=='a3'"}],
    "encoding":{"y":{"field":"y","type":"quantitative","scale":{"domain":[0,1.2],"nice":false},"title":"Normalized cell index"}},
    "layer":[
     {"mark":{"type":"rule","color":"#333","strokeWidth":1.5},"encoding":{"x":{"field":"x1","type":"quantitative","scale":{"domain":[0,72],"nice":false},"title":"Time after addition of polysorbate-80 [h]"},"x2":{"field":"x2"}}},
     {"mark":{"type":"tick","orient":"vertical","color":"#333","size":7,"thickness":1.5},"encoding":{"x":{"field":"x1","type":"quantitative","scale":{"domain":[0,72],"nice":false},"title":"Time after addition of polysorbate-80 [h]"}}},
     {"mark":{"type":"tick","orient":"vertical","color":"#333","size":7,"thickness":1.5},"encoding":{"x":{"field":"x2","type":"quantitative","scale":{"domain":[0,72],"nice":false},"title":"Time after addition of polysorbate-80 [h]"}}},
     {"mark":{"type":"text","align":"center","baseline":"alphabetic","font":"Liberation Serif","fontStyle":"italic","fontWeight":"bold","fontSize":11.5,"color":"#222"},"encoding":{"x":{"field":"tm","type":"quantitative","scale":{"domain":[0,72],"nice":false},"title":"Time after addition of polysorbate-80 [h]"},"y":{"field":"ty","type":"quantitative","scale":{"domain":[0,1.2],"nice":false},"title":"Normalized cell index"},"text":{"field":"txt"}}}
    ]}
  ]},
 {"width":296,"height":167,
  "layer":[
   {"data":{"name":"d"},"transform":[{"filter":"datum.p=='a4'"}],
    "encoding":{"x":{"field":"t","type":"quantitative","scale":{"domain":[0,72],"nice":false},"title":"Time after addition of polysorbate-80 [h]","axis":{"values":[0,6,12,18,24,30,36,42,48,54,60,66,72],"tickCount":13}},
     "color":{"field":"s","type":"nominal","scale":{"domain":["control","treat"],"range":["#3232c8","#f26a2a"]},"legend":null}},
    "layer":[
     {"mark":{"type":"errorband","opacity":0.25,"borders":{"strokeWidth":0.5,"opacity":0.4}},"encoding":{"y":{"field":"m","type":"quantitative","scale":{"domain":[0,1.2],"nice":false},"title":"Normalized cell index"},"yError":{"field":"e"}}},
     {"mark":{"type":"line","strokeWidth":1.1},"encoding":{"y":{"field":"m","type":"quantitative","scale":{"domain":[0,1.2],"nice":false},"title":"Normalized cell index"}}}
    ]},
   {"data":{"name":"lab"},"transform":[{"filter":"datum.p=='a4'"}],
    "mark":{"type":"text","align":"right","baseline":"middle","font":"Liberation Sans","fontWeight":"bold","fontSize":10},
    "encoding":{"x":{"field":"t","type":"quantitative","scale":{"domain":[0,72],"nice":false},"title":"Time after addition of polysorbate-80 [h]"},"y":{"field":"y","type":"quantitative","scale":{"domain":[0,1.2],"nice":false},"title":"Normalized cell index"},"text":{"field":"txt"},
     "color":{"field":"s","type":"nominal","scale":{"domain":["control","treat"],"range":["#3232c8","#f26a2a"]},"legend":null}}},
   {"data":{"name":"sig"},"transform":[{"filter":"datum.p=='a4'"}],
    "encoding":{"y":{"field":"y","type":"quantitative","scale":{"domain":[0,1.2],"nice":false},"title":"Normalized cell index"}},
    "layer":[
     {"mark":{"type":"rule","color":"#333","strokeWidth":1.5},"encoding":{"x":{"field":"x1","type":"quantitative","scale":{"domain":[0,72],"nice":false},"title":"Time after addition of polysorbate-80 [h]"},"x2":{"field":"x2"}}},
     {"mark":{"type":"tick","orient":"vertical","color":"#333","size":7,"thickness":1.5},"encoding":{"x":{"field":"x1","type":"quantitative","scale":{"domain":[0,72],"nice":false},"title":"Time after addition of polysorbate-80 [h]"}}},
     {"mark":{"type":"tick","orient":"vertical","color":"#333","size":7,"thickness":1.5},"encoding":{"x":{"field":"x2","type":"quantitative","scale":{"domain":[0,72],"nice":false},"title":"Time after addition of polysorbate-80 [h]"}}},
     {"mark":{"type":"text","align":"center","baseline":"alphabetic","font":"Liberation Serif","fontStyle":"italic","fontWeight":"bold","fontSize":11.5,"color":"#222"},"encoding":{"x":{"field":"tm","type":"quantitative","scale":{"domain":[0,72],"nice":false},"title":"Time after addition of polysorbate-80 [h]"},"y":{"field":"ty","type":"quantitative","scale":{"domain":[0,1.2],"nice":false},"title":"Normalized cell index"},"text":{"field":"txt"}}}
    ]}
  ]}
 ]},
{"title":{"text":"polysorbate-20","anchor":"middle","offset":-8},
 "spacing":16,
 "vconcat":[
 {"width":299,"height":167,
  "title":{"text":"b","anchor":"start","frame":"bounds","dx":6,"offset":0},
  "layer":[
   {"data":{"name":"d"},"transform":[{"filter":"datum.p=='b1'"}],
    "encoding":{"x":{"field":"t","type":"quantitative","scale":{"domain":[0,72],"nice":false},"title":"Time after addition of polysorbate-20 [h]","axis":{"values":[0,6,12,18,24,30,36,42,48,54,60,66,72],"tickCount":13}},
     "color":{"field":"s","type":"nominal","scale":{"domain":["control","treat"],"range":["#3232c8","#f26a2a"]},"legend":null}},
    "layer":[
     {"mark":{"type":"errorband","opacity":0.25,"borders":{"strokeWidth":0.5,"opacity":0.4}},"encoding":{"y":{"field":"m","type":"quantitative","scale":{"domain":[0,1.2],"nice":false},"title":"Normalized cell index"},"yError":{"field":"e"}}},
     {"mark":{"type":"line","strokeWidth":1.1},"encoding":{"y":{"field":"m","type":"quantitative","scale":{"domain":[0,1.2],"nice":false},"title":"Normalized cell index"}}}
    ]},
   {"data":{"name":"lab"},"transform":[{"filter":"datum.p=='b1'"}],
    "mark":{"type":"text","align":"right","baseline":"middle","font":"Liberation Sans","fontWeight":"bold","fontSize":10},
    "encoding":{"x":{"field":"t","type":"quantitative","scale":{"domain":[0,72],"nice":false},"title":"Time after addition of polysorbate-20 [h]"},"y":{"field":"y","type":"quantitative","scale":{"domain":[0,1.2],"nice":false},"title":"Normalized cell index"},"text":{"field":"txt"},
     "color":{"field":"s","type":"nominal","scale":{"domain":["control","treat"],"range":["#3232c8","#f26a2a"]},"legend":null}}}
  ]},
 {"width":299,"height":167,
  "layer":[
   {"data":{"name":"d"},"transform":[{"filter":"datum.p=='b2'"}],
    "encoding":{"x":{"field":"t","type":"quantitative","scale":{"domain":[0,72],"nice":false},"title":"Time after addition of polysorbate-20 [h]","axis":{"values":[0,6,12,18,24,30,36,42,48,54,60,66,72],"tickCount":13}},
     "color":{"field":"s","type":"nominal","scale":{"domain":["control","treat"],"range":["#3232c8","#f26a2a"]},"legend":null}},
    "layer":[
     {"mark":{"type":"errorband","opacity":0.25,"borders":{"strokeWidth":0.5,"opacity":0.4}},"encoding":{"y":{"field":"m","type":"quantitative","scale":{"domain":[0,1.2],"nice":false},"title":"Normalized cell index"},"yError":{"field":"e"}}},
     {"mark":{"type":"line","strokeWidth":1.1},"encoding":{"y":{"field":"m","type":"quantitative","scale":{"domain":[0,1.2],"nice":false},"title":"Normalized cell index"}}}
    ]},
   {"data":{"name":"lab"},"transform":[{"filter":"datum.p=='b2'"}],
    "mark":{"type":"text","align":"right","baseline":"middle","font":"Liberation Sans","fontWeight":"bold","fontSize":10},
    "encoding":{"x":{"field":"t","type":"quantitative","scale":{"domain":[0,72],"nice":false},"title":"Time after addition of polysorbate-20 [h]"},"y":{"field":"y","type":"quantitative","scale":{"domain":[0,1.2],"nice":false},"title":"Normalized cell index"},"text":{"field":"txt"},
     "color":{"field":"s","type":"nominal","scale":{"domain":["control","treat"],"range":["#3232c8","#f26a2a"]},"legend":null}}}
  ]},
 {"width":299,"height":167,
  "layer":[
   {"data":{"name":"d"},"transform":[{"filter":"datum.p=='b3'"}],
    "encoding":{"x":{"field":"t","type":"quantitative","scale":{"domain":[0,72],"nice":false},"title":"Time after addition of polysorbate-20 [h]","axis":{"values":[0,6,12,18,24,30,36,42,48,54,60,66,72],"tickCount":13}},
     "color":{"field":"s","type":"nominal","scale":{"domain":["control","treat"],"range":["#3232c8","#f26a2a"]},"legend":null}},
    "layer":[
     {"mark":{"type":"errorband","opacity":0.25,"borders":{"strokeWidth":0.5,"opacity":0.4}},"encoding":{"y":{"field":"m","type":"quantitative","scale":{"domain":[0,1.2],"nice":false},"title":"Normalized cell index"},"yError":{"field":"e"}}},
     {"mark":{"type":"line","strokeWidth":1.1},"encoding":{"y":{"field":"m","type":"quantitative","scale":{"domain":[0,1.2],"nice":false},"title":"Normalized cell index"}}}
    ]},
   {"data":{"name":"lab"},"transform":[{"filter":"datum.p=='b3'"}],
    "mark":{"type":"text","align":"right","baseline":"middle","font":"Liberation Sans","fontWeight":"bold","fontSize":10},
    "encoding":{"x":{"field":"t","type":"quantitative","scale":{"domain":[0,72],"nice":false},"title":"Time after addition of polysorbate-20 [h]"},"y":{"field":"y","type":"quantitative","scale":{"domain":[0,1.2],"nice":false},"title":"Normalized cell index"},"text":{"field":"txt"},
     "color":{"field":"s","type":"nominal","scale":{"domain":["control","treat"],"range":["#3232c8","#f26a2a"]},"legend":null}}}
  ]},
 {"width":299,"height":167,
  "layer":[
   {"data":{"name":"d"},"transform":[{"filter":"datum.p=='b4'"}],
    "encoding":{"x":{"field":"t","type":"quantitative","scale":{"domain":[0,72],"nice":false},"title":"Time after addition of polysorbate-20 [h]","axis":{"values":[0,6,12,18,24,30,36,42,48,54,60,66,72],"tickCount":13}},
     "color":{"field":"s","type":"nominal","scale":{"domain":["control","treat"],"range":["#3232c8","#f26a2a"]},"legend":null}},
    "layer":[
     {"mark":{"type":"errorband","opacity":0.25,"borders":{"strokeWidth":0.5,"opacity":0.4}},"encoding":{"y":{"field":"m","type":"quantitative","scale":{"domain":[0,1.2],"nice":false},"title":"Normalized cell index"},"yError":{"field":"e"}}},
     {"mark":{"type":"line","strokeWidth":1.1},"encoding":{"y":{"field":"m","type":"quantitative","scale":{"domain":[0,1.2],"nice":false},"title":"Normalized cell index"}}}
    ]},
   {"data":{"name":"lab"},"transform":[{"filter":"datum.p=='b4'"}],
    "mark":{"type":"text","align":"right","baseline":"middle","font":"Liberation Sans","fontWeight":"bold","fontSize":10},
    "encoding":{"x":{"field":"t","type":"quantitative","scale":{"domain":[0,72],"nice":false},"title":"Time after addition of polysorbate-20 [h]"},"y":{"field":"y","type":"quantitative","scale":{"domain":[0,1.2],"nice":false},"title":"Normalized cell index"},"text":{"field":"txt"},
     "color":{"field":"s","type":"nominal","scale":{"domain":["control","treat"],"range":["#3232c8","#f26a2a"]},"legend":null}}},
   {"data":{"name":"sigb"},
    "layer":[
     {"mark":{"type":"text","align":"left","baseline":"alphabetic","font":"Liberation Serif","fontStyle":"italic","fontWeight":"bold","fontSize":11.5,"color":"#222"},"encoding":{"x":{"field":"t","type":"quantitative","scale":{"domain":[0,72],"nice":false},"title":"Time after addition of polysorbate-20 [h]"},"y":{"field":"ty","type":"quantitative","scale":{"domain":[0,1.2],"nice":false},"title":"Normalized cell index"},"text":{"field":"txt"}}},
     {"mark":{"type":"text","align":"left","baseline":"middle","font":"Liberation Sans","fontWeight":"bold","fontSize":10,"color":"#222"},"encoding":{"x":{"field":"ht","type":"quantitative","scale":{"domain":[0,72],"nice":false},"title":"Time after addition of polysorbate-20 [h]"},"y":{"field":"hy","type":"quantitative","scale":{"domain":[0,1.2],"nice":false},"title":"Normalized cell index"},"text":{"field":"h"}}}
    ]}
  ]}
 ]}
]
}
